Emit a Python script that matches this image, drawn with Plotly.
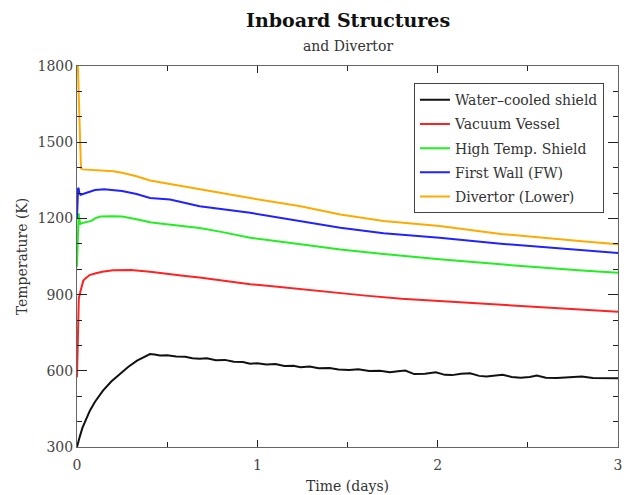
import plotly.graph_objects as go

# ---- data (time in days, temperature in K) ----
t_shield = [0, 0.005, 0.015, 0.03, 0.05, 0.072, 0.1, 0.144, 0.19, 0.238, 0.285, 0.333, 0.37, 0.405,
            0.43, 0.46, 0.5, 0.55, 0.6, 0.64, 0.68, 0.72, 0.77, 0.82, 0.87, 0.92, 0.96, 1.0, 1.05,
            1.1, 1.15, 1.2, 1.24, 1.29, 1.34, 1.4, 1.45, 1.51, 1.56, 1.62, 1.68, 1.735, 1.78, 1.82,
            1.87, 1.93, 1.99, 2.04, 2.08, 2.13, 2.18, 2.23, 2.27, 2.31, 2.36, 2.41, 2.46, 2.51, 2.55,
            2.6, 2.66, 2.73, 2.8, 2.86, 2.91, 3.0]
T_shield = [300, 318, 340, 375, 410, 444, 478, 522, 558, 589, 616, 640, 655, 666,
            664, 660, 661, 656, 655, 649, 647, 649, 642, 643, 636, 635, 628, 630, 625,
            627, 619, 620, 614, 617, 610, 611, 605, 603, 606, 599, 600, 594, 598, 601,
            587, 588, 594, 584, 583, 588, 590, 580, 578, 581, 584, 576, 573, 576, 581,
            573, 572, 575, 578, 572, 571, 571]

t_vessel = [0, 0.002, 0.004, 0.006, 0.01, 0.02, 0.035, 0.05, 0.07, 0.1, 0.14, 0.2, 0.3, 0.405,
            0.5, 0.6, 0.68, 0.8, 0.886, 0.96, 1.07, 1.24, 1.46, 1.6, 1.8, 2.01, 2.2, 2.35, 2.57,
            2.8, 3.0]
T_vessel = [575, 650, 760, 860, 885, 915, 955, 965, 977, 983, 990, 996, 997, 990,
            981, 973, 967, 955, 947, 941, 934, 921, 904, 896, 884, 875, 864, 858, 849,
            840, 832]

t_hts = [0, 0.003, 0.006, 0.009, 0.012, 0.018, 0.03, 0.05, 0.08, 0.1, 0.13, 0.2, 0.25, 0.33,
         0.405, 0.46, 0.57, 0.68, 0.8, 0.96, 1.24, 1.46, 1.7, 2.01, 2.35, 2.57, 2.8, 3.0]
T_hts = [1010, 1100, 1190, 1220, 1200, 1178, 1182, 1185, 1190, 1200, 1207, 1208, 1207, 1197,
         1185, 1180, 1170, 1162, 1147, 1124, 1098, 1078, 1060, 1039, 1019, 1006, 995, 986]

t_fw = [0, 0.003, 0.006, 0.009, 0.013, 0.02, 0.04, 0.07, 0.1, 0.15, 0.2, 0.25, 0.33, 0.405,
        0.516, 0.68, 0.96, 1.24, 1.46, 1.7, 2.01, 2.35, 2.57, 2.8, 3.0]
T_fw = [1200, 1290, 1320, 1318, 1300, 1293, 1298, 1305, 1312, 1315, 1312, 1308, 1296, 1280,
        1274, 1248, 1222, 1189, 1163, 1142, 1124, 1100, 1087, 1075, 1064]

t_div = [0, 0.005, 0.009, 0.012, 0.015, 0.018, 0.022, 0.03, 0.1, 0.2, 0.25, 0.33, 0.405, 0.52,
         0.68, 0.96, 1.24, 1.46, 1.7, 2.01, 2.35, 2.57, 2.8, 3.0]
T_div = [1850, 1800, 1700, 1600, 1500, 1430, 1398, 1393, 1390, 1386, 1380, 1366, 1349, 1335,
         1313, 1280, 1248, 1215, 1190, 1170, 1139, 1124, 1110, 1098]

names = ["Water–cooled shield", "Vacuum Vessel", "High Temp. Shield", "First Wall (FW)", "Divertor (Lower)"]
colors = ["#111111", "#ff2222", "#22ee22", "#2222ff", "#ffaa00"]
series = [(t_shield, T_shield), (t_vessel, T_vessel), (t_hts, T_hts), (t_fw, T_fw), (t_div, T_div)]

x_ticks = [0, 1, 2, 3]
y_ticks = [300, 600, 900, 1200, 1500, 1800]

FONT = "DejaVu Serif"

fig = go.Figure()
for i, ((tx, ty), nm, c) in enumerate(zip(series, names, colors)):
    fig.add_trace(go.Scatter(x=tx, y=ty, mode="lines", name=nm, legendgroup=f"g{i}",
                             line=dict(color=c, width=2)))

axis_common = dict(showline=True, linecolor="#666666", linewidth=1, mirror="ticks",
                   ticks="inside", tickcolor="#222222", showgrid=False, zeroline=False,
                   automargin=False,
                   tickfont=dict(family=FONT, size=14, color="#444444"))

fig.update_xaxes(range=[0, 3], tickmode="array", tickvals=x_ticks, ticklen=7,
                 ticklabelstandoff=5,
                 minor=dict(dtick=0.5, tick0=0, ticks="inside", ticklen=5, tickcolor="#222222"),
                 title=dict(text="Time (days)", font=dict(family=FONT, size=14, color="#333333"),
                            standoff=9),
                 **axis_common)
fig.update_yaxes(range=[300, 1800], tickmode="array", tickvals=y_ticks, ticklen=10,
                 minor=dict(dtick=100, tick0=300, ticks="inside", ticklen=5, tickcolor="#222222"),
                 title=dict(text="Temperature (K)", font=dict(family=FONT, size=14, color="#333333"),
                            standoff=6),
                 **axis_common)

fig.update_layout(
    width=631, height=495,
    margin=dict(l=77, r=13, t=66, b=48),
    paper_bgcolor="white", plot_bgcolor="white",
    font=dict(family=FONT, size=14, color="#333333"),
    showlegend=True,
    legend=dict(x=0.974, xanchor="right", y=0.955, yanchor="top",
                bgcolor="white", bordercolor="#444444", borderwidth=1,
                font=dict(family=FONT, size=14, color="#333333"),
                tracegroupgap=3),
    annotations=[
        dict(text="<b>Inboard Structures</b>", x=0.5, y=(447 - 20) / 381, xref="paper", yref="paper",
             xanchor="center", yanchor="middle", showarrow=False,
             font=dict(family=FONT, size=19, color="#111111")),
        dict(text="and Divertor", x=0.5, y=(447 - 46) / 381, xref="paper", yref="paper",
             xanchor="center", yanchor="middle", showarrow=False,
             font=dict(family=FONT, size=14, color="#333333")),
    ],
)

fig.write_html("out.html")
